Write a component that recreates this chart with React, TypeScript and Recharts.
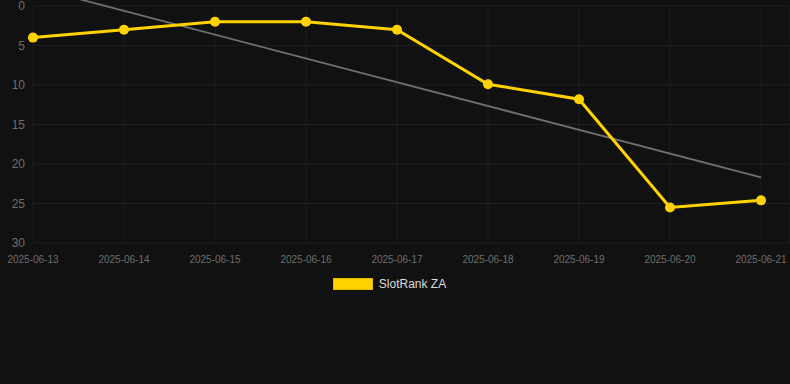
import { LineChart, Line, XAxis, YAxis, CartesianGrid, ReferenceLine, Legend } from 'recharts';

const dates = [
  '2025-06-13', '2025-06-14', '2025-06-15', '2025-06-16', '2025-06-17',
  '2025-06-18', '2025-06-19', '2025-06-20', '2025-06-21',
];
const ranks = [4, 3, 2, 2, 3, 9.9, 11.8, 25.5, 24.6];
const trendEnds = [-2.4, 21.7];
const yTicks = [0, 5, 10, 15, 20, 25, 30];

const chartData = dates.map((d, i) => ({ date: d, rank: ranks[i] }));

function LegendBox() {
  return (
    <div
      style={{
        display: 'flex',
        justifyContent: 'center',
        alignItems: 'center',
        height: 27,
        marginTop: -3,
        paddingRight: 11,
      }}
    >
      <span
        style={{
          display: 'inline-block',
          width: 38,
          height: 10,
          background: '#ffd200',
          border: '1px solid #e0b800',
          marginRight: 6,
        }}
      />
      <span style={{ color: '#dddddd', fontSize: 12, fontFamily: 'Arial, "Liberation Sans", sans-serif' }}>
        SlotRank ZA
      </span>
    </div>
  );
}

export default function App() {
  return (
    <div style={{ position: 'absolute', left: 0, top: 0, width: 790, height: 384, background: '#111111' }}>
      <LineChart
        width={790}
        height={300}
        data={chartData}
        margin={{ top: 6, right: 0, left: 0, bottom: 0 }}
        style={{ fontFamily: 'Arial, "Liberation Sans", sans-serif' }}
      >
        <CartesianGrid stroke="#1e1e1e" strokeWidth={1} />
        <XAxis
          dataKey="date"
          height={30}
          axisLine={false}
          tickLine={false}
          tickMargin={7}
          interval={0}
          padding={{ left: 0, right: 29 }}
          tick={{ fontSize: 10, fill: '#6e6e6e' }}
        />
        <YAxis
          width={33}
          reversed
          domain={[0, 30]}
          ticks={yTicks}
          interval={0}
          axisLine={false}
          tickLine={false}
          tick={{ fontSize: 12, fill: '#6e6e6e' }}
        />
        <ReferenceLine
          segment={[
            { x: dates[0], y: trendEnds[0] },
            { x: dates[dates.length - 1], y: trendEnds[1] },
          ]}
          ifOverflow="visible"
          stroke="#707070"
          strokeWidth={1.8}
        />
        <Line
          type="linear"
          dataKey="rank"
          name="SlotRank ZA"
          stroke="#ffd200"
          strokeWidth={3}
          dot={{ r: 5, fill: '#ffd200', stroke: '#ffd200', strokeWidth: 0 }}
          isAnimationActive={false}
        />
        <Legend verticalAlign="bottom" height={27} content={() => <LegendBox />} />
      </LineChart>
    </div>
  );
}
